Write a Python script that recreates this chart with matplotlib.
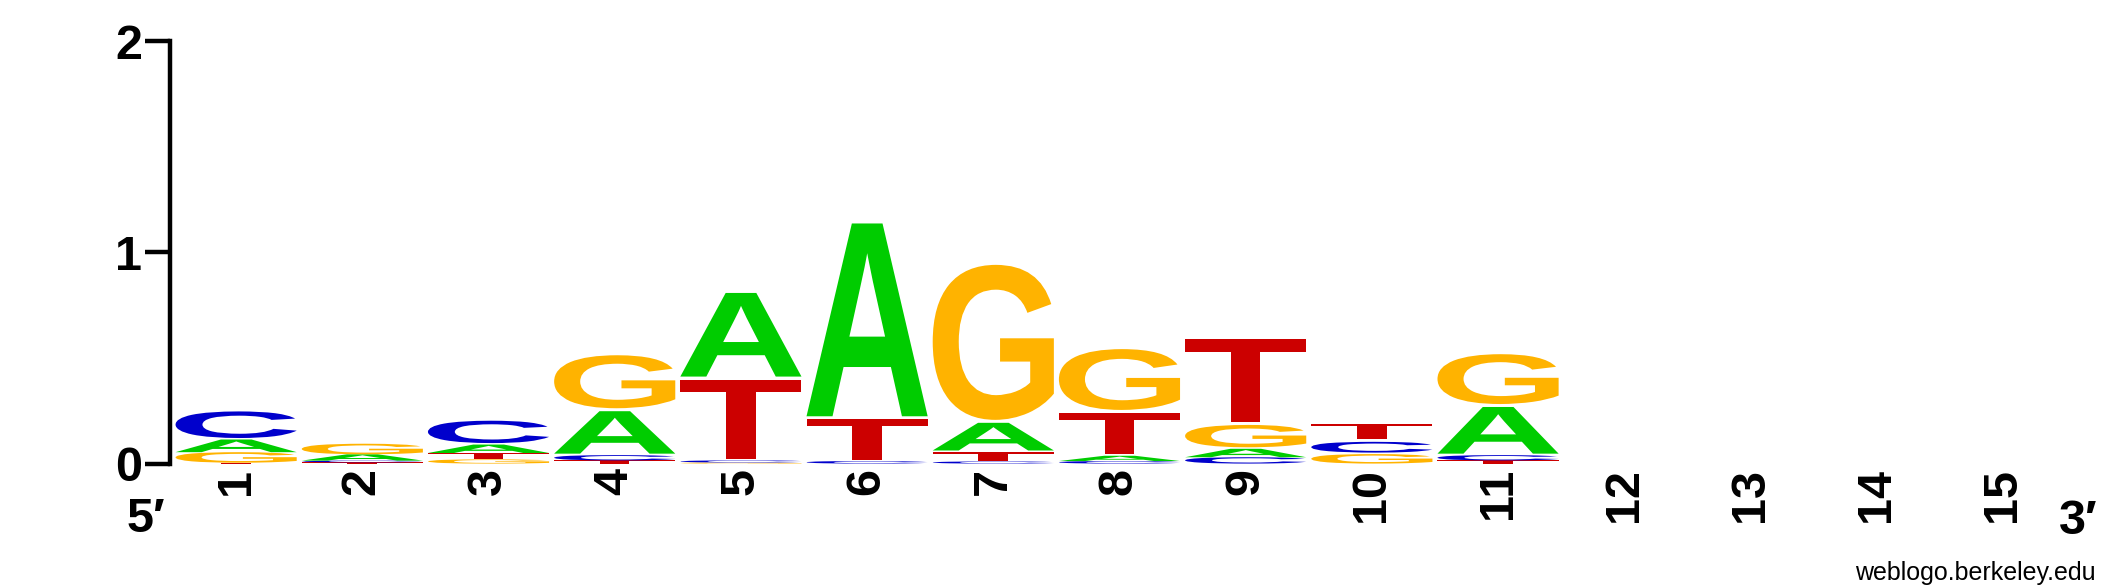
import matplotlib
matplotlib.use("Agg")
from matplotlib import pyplot as plt
from matplotlib.textpath import TextPath
from matplotlib.patches import PathPatch
from matplotlib.font_manager import FontProperties
from matplotlib.transforms import Affine2D

plt.rcParams['font.family'] = ['Liberation Sans', 'DejaVu Sans']

positions = list(range(1, 16))
# bits per letter at each position, positions 12-15 empty
bits_A = [0.06, 0.03, 0.04, 0.215, 0.41, 0.927, 0.145, 0.025, 0.04, 0.0, 0.235, 0, 0, 0, 0]
bits_C = [0.14, 0.008, 0.12, 0.025, 0.01, 0.012, 0.01, 0.012, 0.03, 0.065, 0.025, 0, 0, 0, 0]
bits_G = [0.05, 0.05, 0.02, 0.265, 0.005, 0.0, 0.748, 0.302, 0.12, 0.045, 0.25, 0, 0, 0, 0]
bits_T = [0.004, 0.006, 0.03, 0.015, 0.39, 0.205, 0.045, 0.21, 0.407, 0.085, 0.015, 0, 0, 0, 0]
y_ticks = [0, 1, 2]

colors = {'A': '#00cc00', 'C': '#0000cc', 'G': '#ffb300', 'T': '#cc0000'}
glyph_font = FontProperties(family='Liberation Sans', weight='bold')

fig = plt.figure(figsize=(21.25, 5.88), dpi=100)
ax = fig.add_axes([0.080, 0.2116, 0.8922, 0.7183])


def draw_letter(ax, letter, x, y, w, h):
    # small gap between stacked letters, like weblogo
    pad = 0.007 if h > 0.06 else 0
    tp = TextPath((0, 0), letter, size=1, prop=glyph_font)
    bb = tp.get_extents()
    tr = (Affine2D().translate(-bb.x0, -bb.y0)
          .scale(w / bb.width, (h - 2 * pad) / bb.height)
          .translate(x - w / 2, y + pad))
    ax.add_patch(PathPatch(tr.transform_path(tp), facecolor=colors[letter],
                           edgecolor='none'))


col_w = 0.96
for i, pos in enumerate(positions):
    stack = [('A', bits_A[i]), ('C', bits_C[i]), ('G', bits_G[i]), ('T', bits_T[i])]
    stack.sort(key=lambda s: s[1])
    y = 0
    for letter, h in stack:
        if h > 0:
            draw_letter(ax, letter, pos, y, col_w, h)
            y += h

ax.set_xlim(0.476, 15.5)
ax.set_ylim(0, 2)

for side in ['top', 'right', 'bottom']:
    ax.spines[side].set_visible(False)
ax.spines['left'].set_linewidth(3.2)
ax.spines['left'].set_capstyle('projecting')

ax.set_yticks(y_ticks)
ax.set_yticklabels([str(t) for t in y_ticks], fontsize=35, fontweight='bold')
ax.tick_params(axis='y', length=18, width=3.2, pad=2)

ax.set_xticks(positions)
ax.set_xticklabels([str(p) for p in positions], rotation=90, fontsize=35,
                   fontweight='bold', va='top', ha='center')
ax.tick_params(axis='x', length=0, pad=3)

fig.text(146 / 2125, 1 - 520 / 588, "5\u2032", fontsize=35, fontweight='bold',
         ha='center', va='center')
fig.text(2078 / 2125, 1 - 521 / 588, "3\u2032", fontsize=35, fontweight='bold',
         ha='center', va='center')
fig.text(2096 / 2125, 1 - 573 / 588, "weblogo.berkeley.edu", fontsize=18,
         ha='right', va='center')

fig.savefig("out.png", dpi=100)
